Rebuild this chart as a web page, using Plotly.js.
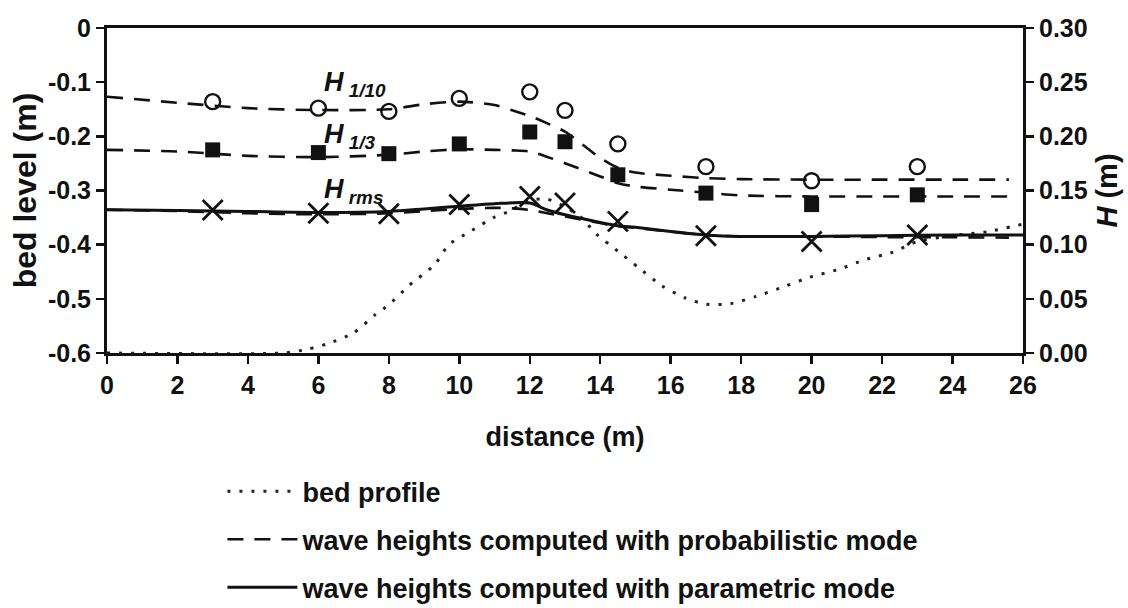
<!DOCTYPE html>
<html>
<head>
<meta charset="utf-8">
<script src="https://cdn.plot.ly/plotly-3.0.1.min.js"></script>
<style>
html,body{margin:0;padding:0;background:#fff;}
#chart{width:1128px;height:608px;}
</style>
</head>
<body>
<div id="chart"></div>
<script>
// ---- data ----
const measDistance = [3, 6, 8, 10, 12, 13, 14.5, 17, 20, 23];
const measH110 = [0.232, 0.226, 0.223, 0.235, 0.241, 0.224, 0.193, 0.172, 0.159, 0.172];
const measH13  = [0.1875, 0.185, 0.184, 0.193, 0.204, 0.195, 0.1645, 0.1476, 0.137, 0.146];
const measHrms = [0.132, 0.129, 0.1285, 0.137, 0.1445, 0.1384, 0.1215, 0.1083, 0.103, 0.109];

const bedDistance = [0, 5, 5.7, 6.3, 7, 7.6, 8, 8.6, 9.3, 9.7, 10.3, 11, 11.4, 12, 12.5, 13, 13.5, 13.85, 14.5, 15.1, 15.75, 16.4, 17, 17.7, 18.4, 19.2, 19.9, 20.8, 21.5, 22.3, 23, 24, 25, 26];
const bedLevel = [-0.6, -0.6, -0.593, -0.582, -0.563, -0.53, -0.511, -0.474, -0.437, -0.40, -0.376, -0.349, -0.339, -0.318, -0.316, -0.33, -0.352, -0.378, -0.412, -0.443, -0.476, -0.498, -0.51, -0.509, -0.496, -0.478, -0.461, -0.445, -0.428, -0.414, -0.394, -0.383, -0.376, -0.362];

const probDistance = [0, 2, 4, 6, 8, 9, 10, 11, 11.5, 12, 12.5, 13, 14, 14.5, 15, 16, 17, 18, 20, 22, 24, 25.6];
const probH110 = [0.2366, 0.231, 0.226, 0.2243, 0.225, 0.2296, 0.232, 0.229, 0.224, 0.2188, 0.212, 0.2043, 0.180, 0.171, 0.1666, 0.1636, 0.1614, 0.1605, 0.160, 0.160, 0.160, 0.160];
const probH13  = [0.1875, 0.186, 0.182, 0.1808, 0.183, 0.186, 0.188, 0.1875, 0.187, 0.186, 0.181, 0.1752, 0.163, 0.1568, 0.1537, 0.1507, 0.148, 0.1455, 0.1445, 0.1445, 0.1445, 0.1445];
const probHrms = [0.1322, 0.131, 0.129, 0.128, 0.129, 0.131, 0.133, 0.134, 0.1335, 0.132, 0.129, 0.126, 0.120, 0.117, 0.1155, 0.112, 0.109, 0.1075, 0.1075, 0.107, 0.1068, 0.1065];

const paramDistance = [0, 2, 4, 6, 8, 9, 10, 11, 12, 12.5, 13, 14, 14.5, 15, 16, 17, 18, 20, 22, 24, 26];
const paramHrms = [0.1322, 0.1316, 0.1307, 0.1298, 0.1307, 0.133, 0.1355, 0.1378, 0.1384, 0.132, 0.1276, 0.1205, 0.1175, 0.116, 0.1122, 0.109, 0.1076, 0.1076, 0.1083, 0.109, 0.109];

const xTickVals = [0, 2, 4, 6, 8, 10, 12, 14, 16, 18, 20, 22, 24, 26];
const yTickVals = [0, -0.1, -0.2, -0.3, -0.4, -0.5, -0.6];
const yTickText = ['0', '-0.1', '-0.2', '-0.3', '-0.4', '-0.5', '-0.6'];
const y2TickVals = [0, 0.05, 0.10, 0.15, 0.20, 0.25, 0.30];
const y2TickText = ['0.00', '0.05', '0.10', '0.15', '0.20', '0.25', '0.30'];

const legendNames = ['bed profile', 'wave heights computed with probabilistic mode', 'wave heights computed with parametric mode'];

// ---- styles ----
const FONT = 'Liberation Sans, Arial, Helvetica, sans-serif';
const INK = '#111';
const DASH = '16px,11px';

const traces = [
  {x: bedDistance, y: bedLevel, yaxis: 'y', mode: 'lines', name: legendNames[0], legendgroup: 'bed',
   line: {color: '#222', width: 3, dash: '3px,9px', shape: 'spline', smoothing: 0.6}},
  {x: probDistance, y: probH110, yaxis: 'y2', mode: 'lines', name: legendNames[1], legendgroup: 'prob',
   line: {color: INK, width: 2.6, dash: DASH, shape: 'spline', smoothing: 0.8}},
  {x: probDistance, y: probH13, yaxis: 'y2', mode: 'lines', name: legendNames[1], legendgroup: 'prob', showlegend: false,
   line: {color: INK, width: 2.6, dash: DASH, shape: 'spline', smoothing: 0.8}},
  {x: probDistance, y: probHrms, yaxis: 'y2', mode: 'lines', name: legendNames[1], legendgroup: 'prob', showlegend: false,
   line: {color: INK, width: 2.6, dash: DASH, shape: 'spline', smoothing: 0.8}},
  {x: paramDistance, y: paramHrms, yaxis: 'y2', mode: 'lines', name: legendNames[2], legendgroup: 'param',
   line: {color: INK, width: 3, shape: 'spline', smoothing: 0.8}},
  {x: measDistance, y: measH110, yaxis: 'y2', mode: 'markers', showlegend: false,
   marker: {symbol: 'circle-open', size: 15, color: INK, line: {width: 2.4, color: INK}}},
  {x: measDistance, y: measH13, yaxis: 'y2', mode: 'markers', showlegend: false,
   marker: {symbol: 'square', size: 15, color: INK, line: {width: 0}}},
  {x: measDistance, y: measHrms, yaxis: 'y2', mode: 'markers', showlegend: false,
   marker: {symbol: 'x-thin-open', size: 20, color: INK, line: {width: 2.8, color: INK}}}
];

const tickFont = {family: FONT, size: 25, color: INK, weight: 700};
const titleFont = {family: FONT, size: 27, color: INK, weight: 700};

const labelFont = {family: FONT, size: 27, color: INK, weight: 700};
const layout = {
  width: 1128, height: 608,
  margin: {l: 107, r: 105, t: 28, b: 255, autoexpand: false},
  paper_bgcolor: '#fff', plot_bgcolor: '#fff',
  showlegend: true,
  legend: {x: 0.126, y: -0.351, xanchor: 'left', yanchor: 'top', orientation: 'v',
           itemwidth: 70, tracegroupgap: 10, bgcolor: 'rgba(0,0,0,0)',
           font: {family: FONT, size: 27, color: INK, weight: 700}},
  xaxis: {range: [0, 26], tickvals: xTickVals, ticks: 'outside', ticklen: 8, tickwidth: 2.5, tickcolor: INK,
          showline: true, linewidth: 3, linecolor: INK, mirror: true, showgrid: false, zeroline: false,
          tickfont: tickFont, title: {text: 'distance (m)', font: titleFont, standoff: 30}},
  yaxis: {range: [-0.6, 0], tickvals: yTickVals, ticktext: yTickText, ticks: 'outside', ticklen: 8, tickwidth: 2.5,
          tickcolor: INK, showline: true, linewidth: 3, linecolor: INK, showgrid: false, zeroline: false,
          tickfont: tickFont, title: {text: 'bed level (m)', font: {family: FONT, size: 32, color: INK, weight: 700}, standoff: 2}},
  yaxis2: {range: [0, 0.30], overlaying: 'y', side: 'right', tickvals: y2TickVals, ticktext: y2TickText,
           ticks: 'outside', ticklen: 8, tickwidth: 2.5, tickcolor: INK, showline: true, linewidth: 3, linecolor: INK,
           showgrid: false, zeroline: false, tickfont: tickFont,
           title: {text: '<i>H</i> (m)', font: {family: FONT, size: 29, color: INK, weight: 700}, standoff: 10}},
  annotations: [
    {xref: 'x', yref: 'y', x: 6.1, y: -0.104, xanchor: 'left', yanchor: 'middle', showarrow: false,
     text: '<i>H</i><sub><i> 1/10</i></sub>', font: labelFont},
    {xref: 'x', yref: 'y', x: 6.1, y: -0.2, xanchor: 'left', yanchor: 'middle', showarrow: false,
     text: '<i>H</i><sub><i> 1/3</i></sub>', font: labelFont},
    {xref: 'x', yref: 'y', x: 6.1, y: -0.3, xanchor: 'left', yanchor: 'middle', showarrow: false,
     text: '<i>H</i><sub><i> rms</i></sub>', font: labelFont}
  ]
};

Plotly.newPlot('chart', traces, layout, {displayModeBar: false, staticPlot: true});
</script>
</body>
</html>
